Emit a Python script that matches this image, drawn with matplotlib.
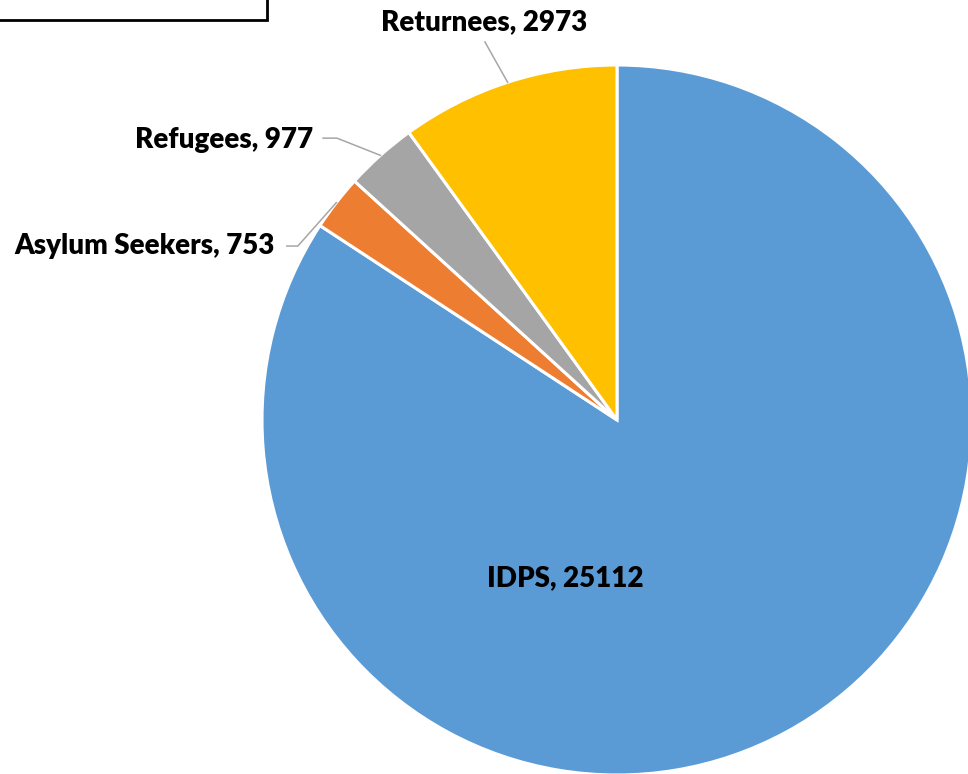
import matplotlib.pyplot as plt
import matplotlib.patches as mpatches
import numpy as np

plt.rcParams['font.family'] = ['Lato', 'DejaVu Sans']

# data
categories = ['IDPS', 'Asylum Seekers', 'Refugees', 'Returnees']
values = [25112, 753, 977, 2973]
colors = ['#5B9BD5', '#ED7D31', '#A5A5A5', '#FFC000']

W, H = 968, 774
fig = plt.figure(figsize=(W / 100, H / 100), dpi=100)

# pie centre (617, 420) px, radius 355 px
cx, cy, r = 617, 420, 355
ax = fig.add_axes([(cx - r) / W, (H - cy - r) / H, 2 * r / W, 2 * r / H])

wedges, _ = ax.pie(values, colors=colors, startangle=90, counterclock=False,
                   radius=1, wedgeprops=dict(edgecolor='white', linewidth=2.2))
for w in wedges:
    w.set_clip_on(False)

# pie() pads the limits, reset them afterwards
ax.set_xlim(-1, 1)
ax.set_ylim(-1, 1)
ax.set_aspect('equal')
ax.axis('off')

lbl_kw = dict(fontsize=20, fontweight='heavy', color='black')
line_col = '#A6A6A6'


def mid_point(w):
    a = np.deg2rad((w.theta1 + w.theta2) / 2)
    return np.cos(a), np.sin(a)


# IDPS label inside
ax.text(-0.146, -0.445, f'{categories[0]}, {values[0]}', ha='center', va='center', **lbl_kw)

# Asylum Seekers
mx, my = mid_point(wedges[1])
ax.plot([-0.930, -0.899, mx], [0.490, 0.490, my], color=line_col, lw=1.1, clip_on=False)
ax.text(-0.963, 0.490, f'{categories[1]}, {values[1]}', ha='right', va='center', **lbl_kw)

# Refugees
mx, my = mid_point(wedges[2])
ax.plot([-0.828, -0.789, mx], [0.794, 0.794, my], color=line_col, lw=1.1, clip_on=False)
ax.text(-0.856, 0.789, f'{categories[2]}, {values[2]}', ha='right', va='center', **lbl_kw)

# Returnees
mx, my = mid_point(wedges[3])
ax.plot([-0.372, mx], [1.065, my], color=line_col, lw=1.1, clip_on=False)
ax.text(-0.375, 1.121, f'{categories[3]}, {values[3]}', ha='center', va='center', **lbl_kw)

# partial box in the top-left corner
box = mpatches.Rectangle((-10 / W, 1 - 20 / H), 277 / W, 40 / H, transform=fig.transFigure,
                         facecolor='white', edgecolor='black', linewidth=2, clip_on=False)
fig.patches.append(box)

fig.savefig('out.png', dpi=100)
